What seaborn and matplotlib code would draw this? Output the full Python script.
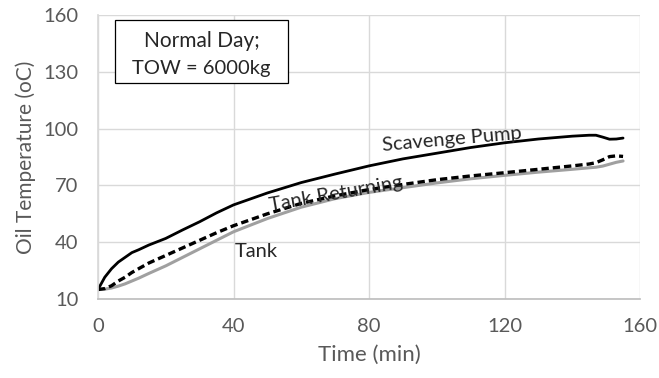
import matplotlib
matplotlib.use("Agg")
import matplotlib.pyplot as plt
import seaborn as sns
import pandas as pd
from matplotlib.patches import Rectangle

# ---- data ----
time_min = [0, 2, 4, 6, 8, 10, 12, 15, 20, 25, 30, 35, 40, 50, 60, 70, 80,
            90, 100, 110, 120, 130, 140, 145, 147, 149, 151, 153, 155]
scavenge_pump = [15, 21.5, 26, 29.5, 32, 34.5, 36, 38.5, 42, 46.5, 50.8, 55.5,
                 59.7, 66, 71.5, 76, 80.3, 84, 87, 90, 92.5, 94.5, 96, 96.5,
                 96.5, 95.5, 94.4, 94.5, 95]
tank_returning = [15, 15.5, 17, 19.5, 21.5, 24, 26, 29, 33, 37, 41, 45, 48.7,
                  55, 60.5, 64.5, 67.8, 70.5, 73, 75, 76.7, 78.5, 80.3, 81.3,
                  82, 83.5, 85.2, 85.6, 85.3]
tank = [15, 15.2, 15.8, 16.8, 18, 19.5, 21, 23.5, 27.5, 32, 36.5, 41, 45.5,
        52.5, 58.5, 63, 66.3, 68.8, 71.3, 73.5, 75.3, 77, 78.5, 79.3, 79.6,
        80.2, 81.2, 82.2, 82.9]
x_ticks = [0, 40, 80, 120, 160]
y_ticks = [10, 40, 70, 100, 130, 160]

df = pd.DataFrame({"Time": time_min, "Scavenge": scavenge_pump,
                   "Returning": tank_returning, "Tank": tank})

sns.set_theme(style="white")
plt.rcParams["font.family"] = ["Lato", "DejaVu Sans"]

fig = plt.figure(figsize=(6.59, 3.78), dpi=100)
ax = fig.add_axes([98 / 659, 1 - 299 / 378, (640 - 98) / 659, (299 - 15) / 378])

sns.lineplot(data=df, x="Time", y="Tank", ax=ax, color="#a0a0a0", lw=2.2)
sns.lineplot(data=df, x="Time", y="Returning", ax=ax, color="black", lw=2.4,
             linestyle=(0, (2.2, 1.2)))
sns.lineplot(data=df, x="Time", y="Scavenge", ax=ax, color="black", lw=2.0)

ax.set_xlim(0, 160)
ax.set_ylim(10, 160)
ax.set_xticks(x_ticks)
ax.set_yticks(y_ticks)
ax.grid(True, color="#d9d9d9", lw=1.0)
ax.set_axisbelow(True)
for s in ["top", "right"]:
    ax.spines[s].set_visible(False)
ax.spines["left"].set_color("#d9d9d9")
ax.spines["bottom"].set_color("#bfbfbf")
ax.tick_params(axis="both", length=0, labelsize=14.5, colors="#595959")
ax.tick_params(axis="y", pad=14)
ax.tick_params(axis="x", pad=14)
ax.set_xlabel("Time (min)", fontsize=16, color="#595959", labelpad=7)
ax.set_ylabel("Oil Temperature (oC)", fontsize=15, color="#595959", labelpad=5)

# annotations
ax.text(104.5, 94.5, "Scavenge Pump", fontsize=14.5, rotation=5, ha="center", va="center")
ax.text(70.3, 65.5, "Tank Returning", fontsize=14.5, rotation=10, ha="center", va="center")
ax.text(46.8, 35.1, "Tank", fontsize=14.5, ha="center", va="center")

ax.add_patch(Rectangle((5.0, 124.0), 51.1, 33.4, fill=True, facecolor="white",
                       edgecolor="black", lw=0.9, zorder=5))
ax.text(30.6, 146.2, "Normal Day;", fontsize=15, ha="center", va="center", zorder=6)
ax.text(30.6, 131.5, "TOW = 6000kg", fontsize=14.5, ha="center", va="center", zorder=6)

fig.savefig("out.png", dpi=100)
